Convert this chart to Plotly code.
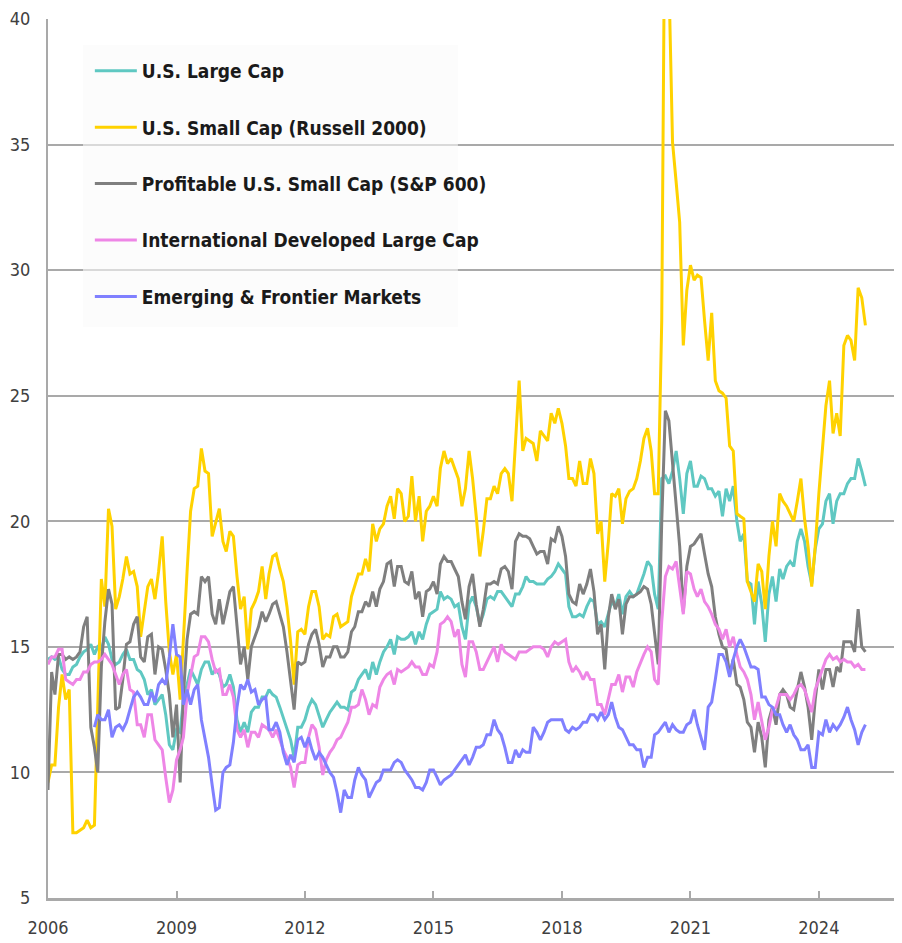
import pandas as pd
import plotly.graph_objects as go

# Monthly observations, Jan 2006 onward
months = pd.date_range("2006-01-01", periods=230, freq="MS")

us_large_cap = [
    14.5, 14.6, 14.5, 14.6, 14.1, 13.9, 13.9, 14.2, 14.3, 14.6, 14.8, 14.9,
    15.1, 14.7, 15.0, 14.9, 15.4, 15.1, 14.5, 14.3, 14.4, 14.7, 14.9, 14.5,
    14.5, 14.1, 14.0, 13.7, 13.1, 13.3, 12.7, 12.9, 13.1, 12.3, 11.1, 10.9,
    11.7, 11.6, 12.9, 13.5, 14.1, 13.8, 13.5, 14.1, 14.4, 14.4, 13.9, 14.1,
    13.9, 13.4, 13.5, 13.9, 13.4, 12.1, 11.6, 12.0, 11.6, 12.4, 12.6, 12.6,
    13.0, 13.0, 13.3, 13.1, 13.0, 12.6, 12.2, 11.8, 11.3, 10.6, 11.8, 11.8,
    12.1, 12.6, 12.9, 12.7, 12.3, 11.8, 12.1, 12.4, 12.6, 12.8, 12.6, 12.6,
    12.5, 13.2, 13.3, 13.7, 13.9, 14.1, 13.7, 14.4, 13.9, 14.4, 14.8, 15.0,
    15.3, 14.7, 15.4, 15.3, 15.3, 15.4, 15.6, 15.1, 15.6, 15.3, 15.9, 16.3,
    16.4, 16.5, 17.2, 16.9, 17.0, 16.9, 16.6, 16.7, 15.8, 15.3, 16.7, 17.0,
    16.6, 15.9, 16.3, 16.9, 17.0, 16.9, 17.2, 17.2, 17.0, 16.8, 16.6, 17.1,
    17.1, 17.4, 17.8, 17.6, 17.6, 17.5, 17.5, 17.5, 17.7, 17.8, 18.0, 18.3,
    18.1, 17.9, 16.6, 16.2, 16.2, 16.3, 16.2, 16.6, 16.9, 16.8, 15.9, 16.0,
    15.8, 16.3, 16.8, 16.6, 17.1, 16.3, 17.0, 17.2, 17.0, 17.1, 17.5, 17.9,
    18.4, 18.2, 17.1, 16.5, 21.7, 21.8, 21.5, 22.0, 22.8, 21.7, 20.3, 21.9,
    22.4, 21.4, 21.4, 21.8, 21.7, 21.3, 21.3, 21.0, 21.2, 20.2, 21.3, 20.8,
    21.4, 20.0, 19.2, 19.5, 17.6, 17.5, 15.9, 17.6, 16.7, 15.2, 17.1, 17.8,
    16.8, 18.1, 17.7, 18.2, 18.4, 18.2, 19.2, 19.7, 19.2, 18.2, 17.5, 18.9,
    19.7, 19.9, 20.8, 21.1, 19.9, 20.8, 21.1, 21.1, 21.5, 21.7, 21.7, 22.5,
    22.0, 21.4,
]

us_small_cap_r2000 = [
    9.6, 10.3, 10.3, 12.6, 13.9, 12.9, 13.3, 7.6, 7.6, 7.7, 7.8, 8.1,
    7.8, 7.9, 12.5, 17.7, 16.6, 20.5, 19.8, 16.5, 17.0, 17.7, 18.6, 17.9,
    18.0, 17.4, 15.4, 16.4, 17.4, 17.7, 16.9, 18.0, 19.4, 16.8, 14.8, 13.9,
    14.7, 12.9, 15.6, 18.0, 20.4, 21.3, 21.4, 22.9, 22.0, 21.9, 19.4, 20.0,
    20.5, 19.2, 18.8, 19.6, 19.4, 17.8, 16.5, 17.0, 14.9, 16.5, 16.8, 17.2,
    18.2, 16.9, 17.9, 18.6, 18.7, 18.1, 17.6, 16.6, 15.2, 13.5, 15.6, 15.7,
    15.5, 16.6, 17.2, 17.2, 16.6, 15.3, 15.5, 15.4, 16.2, 16.3, 15.8, 15.9,
    16.0, 17.0, 17.4, 17.9, 17.9, 18.5, 18.0, 19.9, 19.2, 19.7, 19.9, 20.6,
    21.0, 20.1, 21.3, 21.1, 20.0, 20.2, 21.8, 20.0, 21.0, 19.2, 20.4, 20.6,
    21.0, 20.6, 22.1, 22.8, 22.3, 22.5, 22.1, 21.7, 20.6, 21.3, 22.8, 21.7,
    20.2, 18.6, 19.6, 20.9, 20.9, 21.4, 21.1, 21.9, 22.1, 21.9, 20.8, 23.3,
    25.6, 22.8, 23.3, 23.2, 23.1, 22.4, 23.6, 23.4, 23.2, 24.3, 23.9, 24.5,
    23.9, 23.0, 21.7, 21.7, 21.4, 22.4, 21.5, 21.5, 22.5, 21.9, 19.5, 20.0,
    17.6, 19.2, 21.1, 21.0, 21.3, 19.9, 20.9, 21.2, 21.3, 21.7, 22.4, 23.3,
    23.7, 22.8, 21.1, 21.1, 28.0, 48.0, 42.0, 35.1, 33.5, 31.9, 27.0, 29.2,
    30.2, 29.6, 29.8, 29.7, 28.0, 26.4, 28.3, 25.6, 25.2, 25.1, 24.9, 23.0,
    22.8, 20.3, 20.2, 20.1, 17.6, 17.2, 16.8, 18.3, 18.0, 16.5, 18.6, 20.0,
    19.0, 21.1, 20.8, 20.6, 20.3, 20.0, 20.8, 21.7, 20.1, 19.0, 17.4, 19.0,
    21.1, 22.8, 24.6, 25.6, 23.5, 24.3, 23.4, 27.0, 27.4, 27.2, 26.4, 29.3,
    28.9, 27.8,
]

profitable_small_cap_sp600 = [
    9.3, 14.0, 13.1, 14.7, 14.7, 14.5, 14.6, 14.5, 14.6, 14.8, 15.8, 16.2,
    11.8, 11.0, 10.0, 14.2, 16.0, 17.3, 16.7, 12.5, 12.6, 13.7, 15.1, 15.2,
    15.9, 16.2, 14.6, 14.4, 15.4, 15.5, 13.9, 15.0, 14.9, 14.1, 13.1, 11.4,
    12.7, 9.6, 13.1, 15.3, 16.3, 16.4, 16.3, 17.8, 17.6, 17.8, 16.3, 15.9,
    16.9, 15.9, 16.5, 17.2, 17.4, 15.9, 14.3, 15.0, 13.7, 15.0, 15.4, 15.8,
    16.4, 16.0, 16.3, 16.7, 16.8, 16.3, 15.8, 14.8, 13.7, 12.5, 14.4, 14.3,
    14.4, 15.1, 15.5, 15.7, 15.1, 14.2, 14.6, 14.6, 15.0, 15.0, 14.6, 14.6,
    14.8, 15.6, 15.8, 16.4, 16.4, 16.8, 16.6, 17.2, 16.6, 17.3, 17.6, 18.3,
    18.4, 17.4, 18.2, 18.2, 17.6, 17.5, 18.0, 16.9, 17.2, 16.2, 17.2, 17.3,
    17.6, 17.1, 18.3, 18.6, 18.4, 18.4, 18.1, 17.8, 16.8, 16.1, 17.4, 17.9,
    16.7, 15.8, 16.5, 17.5, 17.5, 17.6, 17.5, 18.1, 18.2, 18.0, 17.3, 19.2,
    19.5, 19.4, 19.4, 19.3, 19.0, 18.7, 18.8, 18.8, 18.3, 19.3, 19.2, 19.8,
    19.4, 18.6, 17.1, 16.8, 16.7, 17.5, 17.1, 17.5, 18.1, 17.2, 15.5, 15.9,
    14.1, 16.2, 17.1, 16.5, 16.9, 15.5, 16.7, 17.0, 17.0, 17.1, 17.2, 17.4,
    17.3, 16.7, 15.6, 14.3, 20.0, 24.4, 24.0, 22.3, 20.8, 19.0, 16.4, 18.2,
    19.0, 19.1, 19.3, 19.5, 18.7, 17.9, 17.4, 16.2, 15.5, 15.0, 14.9, 13.9,
    14.5, 13.5, 13.4, 12.9, 12.0, 11.8, 10.8, 12.0, 11.4, 10.2, 12.1, 12.6,
    11.9, 13.1, 13.3, 13.1, 12.6, 12.5, 13.3, 14.0, 13.4, 12.6, 11.3, 12.9,
    14.1, 13.3, 14.1, 14.1, 13.4, 14.2, 14.0, 15.2, 15.2, 15.2, 14.8, 16.5,
    15.0, 14.8,
]

intl_developed_large_cap = [
    14.3, 14.6, 14.6, 14.9, 14.9, 13.7, 13.6, 13.5, 13.7, 13.7, 14.0, 14.0,
    14.3, 14.4, 14.4, 14.5, 14.7, 14.5, 14.3, 13.9, 13.5, 13.9, 14.1, 13.3,
    13.2, 11.9, 11.9, 11.4, 12.3, 12.3, 11.3, 11.1, 10.9, 9.8, 8.8, 9.3,
    10.5, 10.9, 11.4, 13.1, 13.9, 14.6, 14.7, 15.4, 15.4, 15.2, 14.5, 14.0,
    14.1, 13.1, 13.1, 13.5, 13.0, 11.7, 11.4, 11.7, 11.0, 11.6, 11.6, 11.4,
    11.9, 11.8, 11.7, 11.4, 11.7, 11.3, 10.9, 10.6, 10.2, 9.4, 10.3, 10.4,
    10.4, 11.4, 11.9, 11.7, 11.0, 9.9, 10.5, 10.8, 11.0, 11.3, 11.4, 11.7,
    12.0, 12.6, 12.6, 12.7, 13.3, 12.9, 12.3, 12.7, 12.6, 13.4, 13.7, 13.9,
    14.0, 13.5, 14.1, 14.0, 14.1, 14.2, 14.4, 14.2, 14.2, 13.9, 13.9, 14.3,
    14.2, 14.8, 15.9, 16.0, 16.2, 16.0, 15.4, 15.7, 14.3, 13.8, 15.2, 15.2,
    14.8, 14.1, 14.1, 14.4, 14.7, 15.0, 14.4, 15.1, 14.8, 14.7, 14.6, 14.5,
    14.8, 14.8, 14.8, 14.9, 15.0, 15.0, 15.0, 14.9, 14.6, 15.0, 15.2, 15.1,
    15.2, 15.3, 14.4, 14.0, 14.2, 14.0, 13.7, 14.0, 13.7, 13.7, 12.7, 12.7,
    12.3, 13.0, 13.5, 13.5, 13.9, 13.2, 13.8, 13.8, 13.4, 14.0, 14.4, 14.7,
    15.0, 14.8, 13.7, 13.5, 16.0, 17.8, 18.2, 18.1, 18.4, 17.4, 16.3, 18.0,
    17.9, 17.3, 17.0, 17.3, 16.8, 16.6, 16.3, 15.9, 15.7, 15.3, 15.7, 15.0,
    15.4, 14.7, 14.2, 14.0, 13.7, 13.1, 12.1, 12.8, 12.1, 11.3, 11.8, 12.5,
    12.6, 13.1, 13.1, 13.1, 12.9, 13.1, 13.4, 13.5, 13.3, 12.9, 12.4, 13.3,
    13.7, 14.1, 14.5, 14.7, 14.5, 14.6, 14.4, 14.5, 14.4, 14.4, 14.2, 14.3,
    14.1, 14.1,
]

emerging_frontier = [
    None, None, None, None, None, None, None, None, None, None, None, None,
    None, 11.8, 12.3, 12.1, 12.1, 12.5, 11.4, 11.8, 11.9, 11.7, 12.0, 12.5,
    13.0, 13.2, 13.0, 12.7, 12.7, 13.2, 12.8, 13.5, 13.7, 13.5, 14.6, 15.9,
    14.7, 14.6, 12.7, 13.3, 12.7, 13.3, 13.5, 12.1, 11.3, 10.6, 9.5, 8.5,
    8.6, 10.0, 10.2, 10.3, 11.2, 12.6, 13.5, 13.3, 13.7, 13.2, 13.3, 12.7,
    12.9, 13.0, 11.7, 11.7, 12.0, 11.6, 10.8, 10.3, 10.7, 10.4, 11.3, 11.4,
    11.0, 11.4, 10.9, 10.5, 10.8, 10.6, 10.3, 10.0, 9.8, 9.2, 8.4, 9.3,
    9.0, 9.0, 9.7, 10.2, 9.9, 9.7, 9.0, 9.3, 9.6, 9.7, 10.1, 10.1,
    10.1, 10.4, 10.5, 10.4, 10.1, 9.9, 9.7, 9.4, 9.4, 9.3, 9.6, 10.1,
    10.1, 9.8, 9.5, 9.7, 9.8, 9.9, 10.1, 10.3, 10.5, 10.7, 10.3, 10.6,
    11.0, 11.0, 11.1, 11.5, 11.5, 12.1, 11.7, 11.5, 11.0, 10.4, 10.4, 10.9,
    10.6, 10.9, 10.8, 10.8, 11.8, 11.6, 11.3, 11.6, 12.0, 12.1, 12.1, 12.1,
    12.1, 11.7, 11.6, 11.8, 11.7, 11.8, 12.0, 12.0, 12.3, 12.3, 12.1, 12.4,
    12.1, 12.3, 12.8, 12.2, 11.8, 11.7, 11.4, 11.1, 11.1, 10.9, 10.9, 10.2,
    10.6, 10.6, 11.5, 11.6, 11.8, 12.0, 11.6, 11.9, 11.7, 11.6, 11.6, 11.9,
    12.0, 12.5, 11.9, 11.4, 10.9, 12.6, 12.8, 13.7, 14.7, 14.7, 14.4, 13.8,
    14.5, 15.0, 15.3, 15.0, 14.6, 14.2, 14.2, 14.1, 13.0, 13.0, 12.7, 12.6,
    12.3, 12.3, 11.9, 11.6, 11.9, 11.5, 11.3, 10.9, 10.9, 11.1, 10.2, 10.2,
    11.6, 11.5, 12.1, 11.6, 11.9, 11.7, 11.9, 12.2, 12.6, 12.1, 11.7, 11.1,
    11.6, 11.9,
]

series_names = [
    "U.S. Large Cap",
    "U.S. Small Cap (Russell 2000)",
    "Profitable U.S. Small Cap (S&P 600)",
    "International Developed Large Cap",
    "Emerging & Frontier Markets",
]
series_values = [
    us_large_cap,
    us_small_cap_r2000,
    profitable_small_cap_sp600,
    intl_developed_large_cap,
    emerging_frontier,
]
series_colors = ["#5fc8c2", "#ffd200", "#7f7f7f", "#ee86e6", "#8080ff"]

y_ticks = [5, 10, 15, 20, 25, 30, 35, 40]

FONT = "DejaVu Sans Condensed, Liberation Sans Narrow, sans-serif"

fig = go.Figure()
for i, (name, vals, col) in enumerate(zip(series_names, series_values, series_colors)):
    fig.add_trace(go.Scatter(
        x=months, y=vals, name=name, mode="lines",
        line=dict(color=col, width=3),
        legendgroup=f"g{i}", connectgaps=False,
    ))

GRID = "#a9a9a9"
# the page adds an 8px body margin, so the figure is 8px smaller than the window
fig.update_layout(
    width=894, height=935,
    margin=dict(l=40, r=0, t=8, b=45),
    paper_bgcolor="white", plot_bgcolor="white",
    showlegend=True,
    legend=dict(
        x=0.049, y=0.9625, xanchor="left", yanchor="top",
        bgcolor="rgba(0,0,0,0)", borderwidth=0,
        font=dict(family=FONT, size=19, color="#1a1a1a", weight="bold"),
        tracegroupgap=28.7, itemwidth=42, traceorder="grouped",
    ),
    xaxis=dict(
        type="date",
        range=["2006-01-01", "2025-12-10"],
        tick0="2006-01-01", dtick="M36", tickformat="%Y",
        showgrid=False,
        showline=True, linecolor=GRID, linewidth=2.5,
        ticks="inside", ticklen=7, tickcolor=GRID, tickwidth=1.5,
        tickfont=dict(family=FONT, size=18, color="#404040"),
        ticklabelstandoff=12,
        zeroline=False,
    ),
    yaxis=dict(
        range=[5, 40],
        tickvals=y_ticks,
        showgrid=True, gridcolor=GRID, gridwidth=2,
        showline=True, linecolor=GRID, linewidth=2,
        ticks="",
        tickfont=dict(family=FONT, size=18, color="#404040"),
        ticklabelstandoff=12,
        ticklabeloverflow="allow",
        zeroline=False,
    ),
)

# translucent panel behind the legend
fig.add_shape(
    type="rect", xref="paper", yref="paper",
    x0=0.041, x1=0.480, y0=0.6497, y1=0.9705,
    fillcolor="rgba(250,250,250,0.6)", line=dict(width=0), layer="above",
)

fig.write_html("out.html")
